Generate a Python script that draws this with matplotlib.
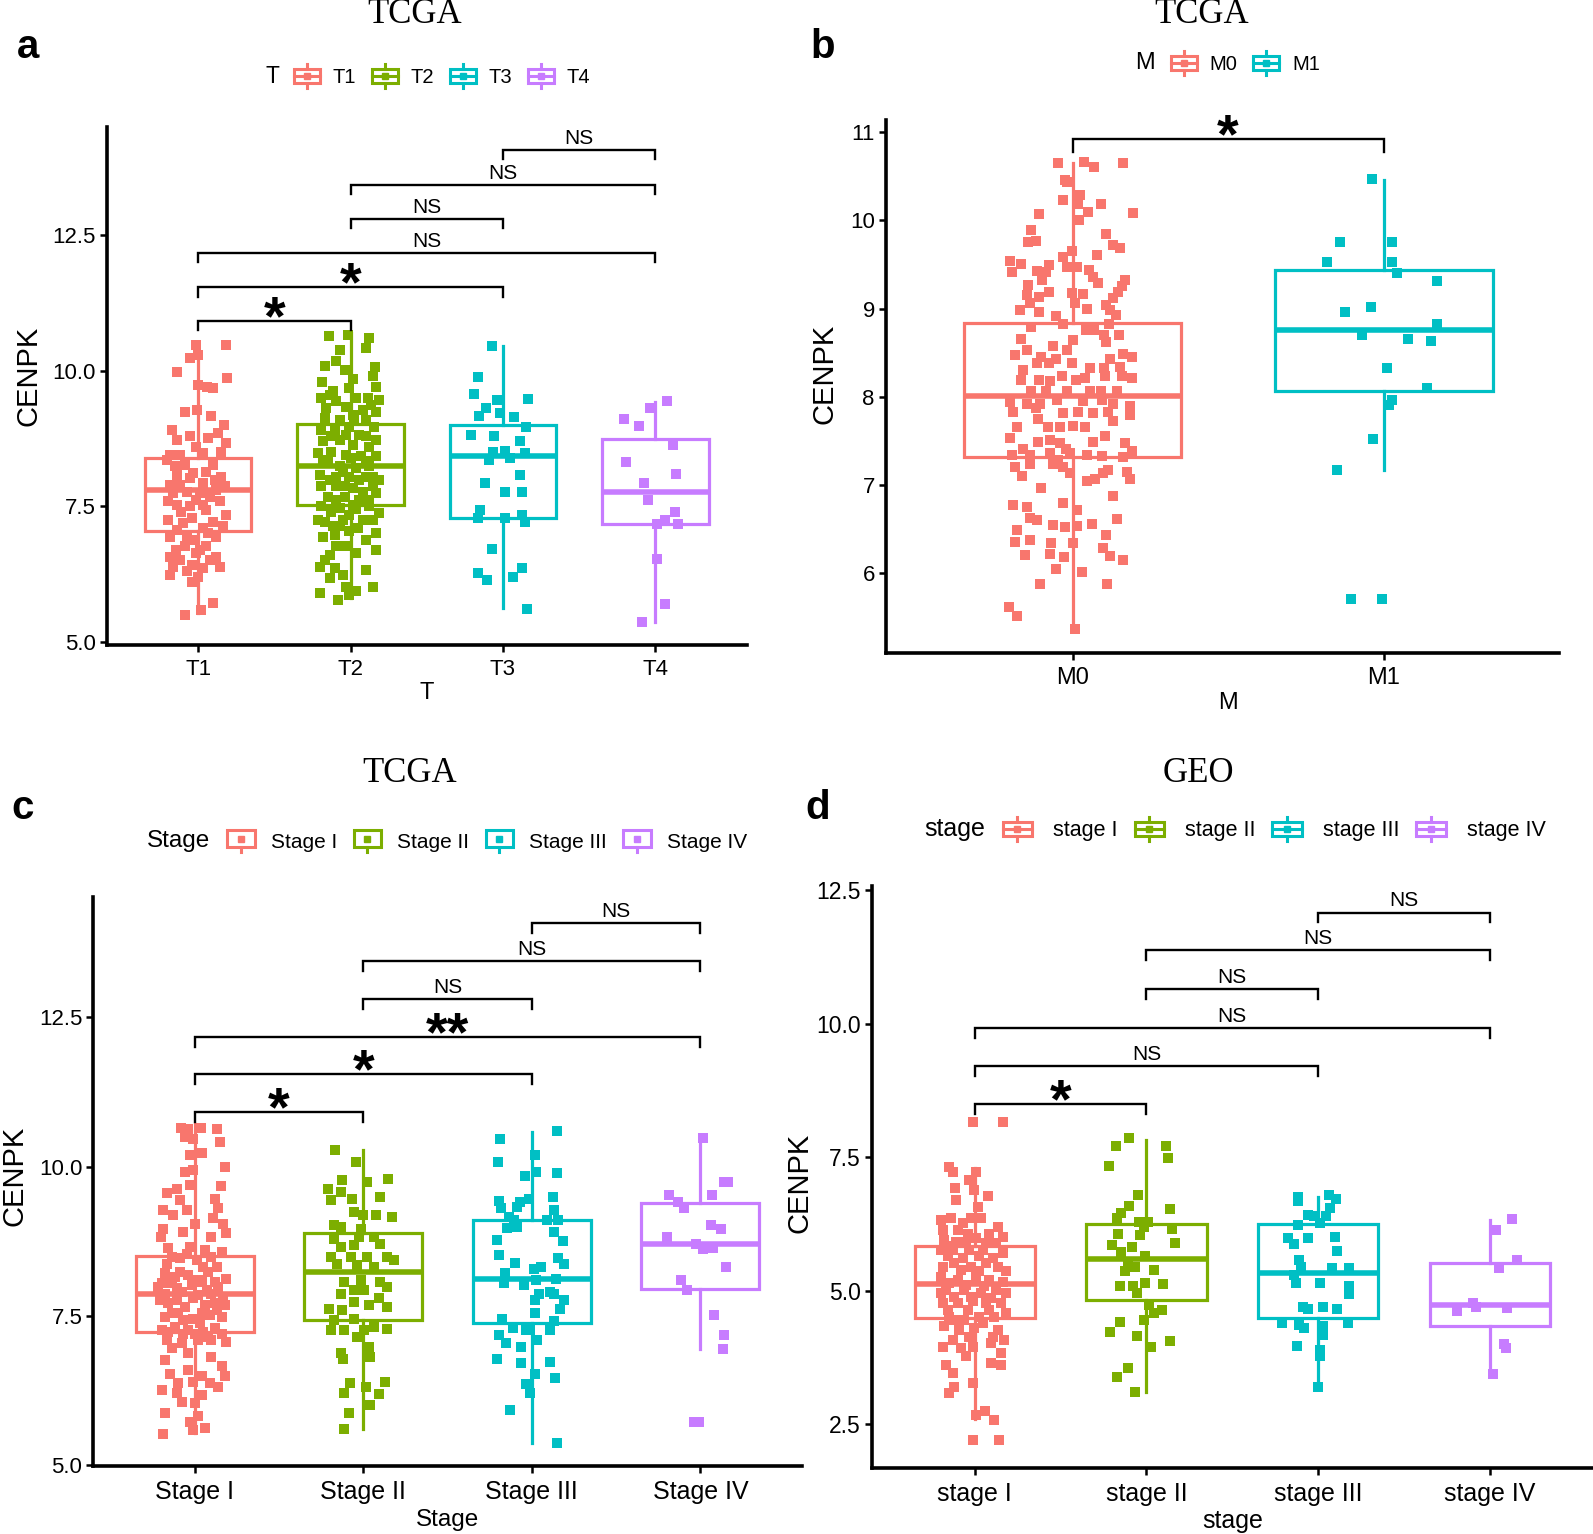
import matplotlib
matplotlib.use("Agg")
import matplotlib.pyplot as plt
from matplotlib.lines import Line2D
from matplotlib.patches import Rectangle
from matplotlib.legend_handler import HandlerBase
import numpy as np

plt.rcParams['font.family'] = ['Liberation Sans', 'DejaVu Sans']

# ---------------- DATA ----------------
# colours (ggplot hue palette)
hue4 = ['#F8766D', '#7CAE00', '#00BFC4', '#C77CFF']
hue2 = ['#F8766D', '#00BFC4']

# ---- panel a : T stage (TCGA) ----
a_cats = ['T1', 'T2', 'T3', 'T4']
a_T1_y = [10.48,10.48,10.24,10.30,9.97,9.87,9.74,9.71,9.68,9.25,9.28,9.16,9.00,8.91,8.79,8.76,8.85,8.73,8.67,8.60,
          8.45,8.45,8.48,8.51,8.36,8.27,8.27,8.08,8.11,8.05,7.90,7.93,7.90,7.77,7.80,7.62,7.59,7.59,7.40,7.44,
          7.34,7.25,7.28,7.22,7.07,7.10,6.94,6.88,6.76,6.76,6.70,6.57,6.64,6.57,6.51,6.42,6.39,6.24,6.30,6.20,
          6.11,5.71,5.59,5.50,8.24,8.02,8.14,7.99,7.74,7.74,7.68,7.87,7.53,7.50,7.53,7.19,7.13,7.00,6.94,6.94,
          6.70,6.51,6.39,6.36]
a_T1_jit = [-0.015,0.185,-0.054,0.0,-0.137,0.189,0.0,0.059,0.098,-0.087,-0.007,0.087,0.167,-0.174,-0.054,0.065,0.130,-0.141,0.185,-0.011,
            -0.185,-0.120,0.033,0.152,-0.207,-0.087,0.098,-0.141,-0.033,0.152,-0.120,0.033,-0.185,-0.076,0.120,-0.011,-0.196,0.141,-0.109,0.054,
            0.185,-0.196,-0.043,0.098,-0.141,0.033,-0.185,-0.022,-0.087,0.054,-0.146,-0.185,-0.011,0.120,-0.120,-0.043,0.141,-0.185,-0.076,0.0,
            -0.043,0.098,0.022,-0.087,-0.152,-0.054,0.054,0.109,-0.163,0.011,0.076,0.174,-0.141,-0.054,0.033,-0.098,0.163,0.065,-0.076,0.120,
            0.011,0.076,-0.163,0.033]
a_T2_y = [10.65,10.67,10.60,10.39,10.42,10.19,10.02,10.09,10.08,9.85,9.80,9.90,9.62,9.68,9.71,9.50,9.45,9.50,9.50,9.47,
          9.31,9.34,9.28,9.25,9.13,9.10,9.10,9.10,8.97,8.91,8.91,8.97,8.82,8.70,8.73,8.64,8.60,8.48,8.51,8.45,
          8.42,8.42,8.30,8.24,8.20,8.24,8.08,8.05,8.05,8.05,7.99,7.87,7.87,7.84,7.87,7.68,7.68,7.62,7.74,7.50,
          7.47,7.45,7.50,7.37,7.22,7.25,7.25,7.13,7.04,6.94,6.97,6.88,6.76,6.61,6.39,6.33,6.36,6.17,6.24,6.02,
          5.93,6.02,5.90,5.77,5.87,
          9.56,9.37,9.19,8.79,8.82,8.79,8.73,8.36,8.39,8.33,8.14,7.99,8.05,7.99,7.87,7.77,7.62,7.53,7.62,7.40,
          7.34,7.25,7.13,7.10,7.00,7.25,6.76,6.64,6.51,6.70]
a_T2_jit = [-0.141,-0.017,0.124,-0.067,0.102,-0.093,-0.039,-0.170,0.163,0.015,-0.185,0.146,-0.115,-0.007,0.167,-0.191,-0.093,0.037,0.113,0.189,
            -0.159,-0.028,0.080,0.167,-0.170,-0.072,0.026,0.102,0.157,-0.191,-0.104,-0.007,0.059,-0.180,-0.072,0.015,0.124,-0.213,-0.126,-0.028,
            0.070,0.167,-0.180,-0.072,0.037,0.124,-0.202,-0.093,-0.007,0.102,0.189,-0.191,-0.093,0.015,0.146,-0.148,-0.039,0.059,0.167,-0.191,
            -0.072,0.037,0.124,0.189,-0.170,-0.050,0.080,-0.115,-0.007,-0.180,-0.104,0.102,-0.039,-0.137,-0.202,0.102,-0.104,-0.137,-0.050,-0.028,
            0.037,0.146,-0.202,-0.083,-0.007,
            -0.137,0.135,0.015,-0.126,-0.028,0.102,0.167,-0.148,0.004,0.102,-0.050,0.059,0.146,-0.137,-0.039,0.080,-0.093,0.015,0.124,-0.126,
            -0.007,0.146,-0.072,0.048,0.167,-0.213,-0.093,0.037,-0.170,0.167]
a_T3_y = [10.46,9.88,9.58,9.47,9.48,9.32,9.17,9.22,9.15,8.97,8.82,8.80,8.70,8.51,8.52,8.36,8.39,8.48,8.08,7.93,
          7.77,7.77,7.44,7.28,7.28,7.34,7.22,6.71,6.27,6.14,6.36,6.19,5.60]
a_T3_jit = [-0.070,-0.165,-0.187,-0.041,0.165,-0.113,-0.154,-0.020,0.074,0.154,-0.211,-0.057,0.111,-0.067,0.013,-0.089,0.046,0.143,0.115,-0.117,
            0.017,0.124,-0.150,-0.161,0.013,0.126,0.148,-0.072,-0.165,-0.102,0.126,0.067,0.161]
a_T4_y = [9.45,9.31,9.11,8.99,8.64,8.32,8.10,7.94,7.62,7.40,7.25,7.18,7.18,6.53,5.70,5.36]
a_T4_jit = [0.076,-0.033,-0.204,-0.107,0.117,-0.189,0.137,-0.072,-0.046,0.130,0.067,0.013,0.148,0.009,0.061,-0.089]
a_q1 = [7.05, 7.53, 7.29, 7.18]
a_med = [7.80, 8.24, 8.42, 7.77]
a_q3 = [8.39, 9.02, 9.00, 8.74]
a_lo = [5.53, 5.80, 5.62, 5.36]
a_hi = [10.51, 10.70, 10.45, 9.42]
a_pairs = [(1, 2), (1, 3), (1, 4), (2, 3), (2, 4), (3, 4)]
a_sig_y = [10.92, 11.54, 12.18, 12.80, 13.43, 14.08]
a_sig = ['*', '*', 'NS', 'NS', 'NS', 'NS']

# ---- panel b : M stage (TCGA) ----
b_cats = ['M0', 'M1']
b_M0_y = [10.65,10.66,10.60,10.65,10.46,10.43,10.29,10.23,10.19,10.19,
          10.10,10.08,10.07,10.00,9.89,9.85,9.77,9.75,9.72,9.69,
          9.65,9.59,9.61,9.54,9.50,9.49,9.47,9.47,9.44,9.41,
          9.43,9.42,9.36,9.32,9.27,9.32,9.29,9.25,9.19,9.19,
          9.18,9.17,9.15,9.06,9.13,9.06,9.12,9.04,8.98,8.96,
          9.00,8.98,8.91,8.83,8.93,8.83,8.79,8.76,8.755,8.70,
          8.70,8.65,8.64,8.58,8.53,8.62,8.53,8.47,8.45,8.43,
          8.48,8.45,8.43,8.38,8.38,8.38,8.33,8.33,8.34,8.30,
          8.23,8.19,8.21,8.23,8.23,8.21,8.19,8.19,8.18,8.07,
          8.07,8.06,8.07,8.07,8.06,7.94,7.92,7.92,7.96,7.95,
          7.96,7.92,7.89,7.83,7.87,7.81,7.83,7.81,7.83,7.79,
          7.66,7.75,7.66,7.66,7.67,7.66,7.72,7.53,7.41,7.49,
          7.51,7.47,7.41,7.49,7.55,7.47,7.38,7.34,7.34,7.36,
          7.28,7.36,7.34,7.33,7.32,7.20,7.10,7.24,7.24,7.20,
          7.13,7.04,7.07,7.13,7.17,7.15,7.07,6.96,6.87,6.77,
          6.75,6.79,6.72,6.62,6.60,6.54,6.52,6.53,6.56,6.61,
          6.49,6.35,6.37,6.34,6.43,6.20,6.22,6.18,6.34,6.28,
          6.19,6.15,6.05,6.01,5.88,5.87,5.61,5.51,5.36]
b_M0_jit = [-0.046,0.036,0.069,0.163,-0.025,-0.019,0.024,-0.032,0.090,0.018,
            0.048,0.195,-0.107,0.020,-0.134,0.107,-0.119,-0.143,0.131,0.154,
            -0.003,-0.032,0.077,-0.202,-0.166,-0.076,-0.019,0.015,0.054,-0.196,
            -0.114,-0.084,0.066,0.170,-0.143,-0.097,0.083,0.158,0.147,-0.077,
            -0.002,0.034,-0.148,-0.137,-0.107,0.008,0.131,0.109,-0.169,-0.107,
            0.045,0.120,-0.054,-0.030,0.139,0.118,-0.134,0.043,0.069,0.102,
            0.150,-0.166,0.002,-0.062,-0.019,0.109,-0.146,-0.186,-0.100,-0.054,
            0.161,0.190,0.120,-0.114,-0.075,-0.003,0.056,0.102,0.152,-0.159,
            -0.035,0.011,0.040,0.104,0.158,0.190,-0.167,-0.107,-0.073,-0.135,
            -0.084,-0.019,0.056,0.090,0.142,-0.202,-0.148,-0.105,-0.049,0.032,
            0.093,0.131,0.184,-0.191,-0.116,-0.030,0.018,0.066,0.115,0.184,
            -0.180,-0.110,-0.078,-0.041,0.002,0.040,0.131,-0.202,-0.159,-0.110,
            -0.073,-0.041,-0.021,0.066,0.104,0.168,0.190,-0.196,-0.137,-0.073,
            -0.046,-0.009,0.047,0.093,0.163,-0.186,-0.164,-0.137,-0.062,-0.030,
            -0.009,0.045,0.072,0.099,0.115,0.174,0.184,-0.100,0.129,-0.191,
            -0.146,-0.032,0.013,-0.137,-0.114,-0.062,-0.025,0.013,0.061,0.142,
            -0.180,-0.186,-0.137,-0.068,0.107,-0.153,-0.073,-0.028,0.002,0.099,
            0.120,0.161,-0.054,0.029,-0.105,0.112,-0.204,-0.180,0.009]
b_M1_y = [10.47,9.75,9.75,9.53,9.53,9.40,9.31,9.02,8.96,8.83,8.70,8.65,8.63,8.32,8.10,7.96,7.91,7.52,7.17,5.70,5.70]
b_M1_jit = [-0.038,-0.139,0.026,-0.183,0.028,0.043,0.170,-0.042,-0.124,0.172,-0.070,0.078,0.151,0.011,0.138,0.027,0.016,-0.035,-0.151,-0.106,-0.004]
b_q1 = [7.32, 8.07]
b_med = [8.01, 8.76]
b_q3 = [8.84, 9.44]
b_lo = [5.35, 7.17]
b_hi = [10.65, 10.46]
b_pairs = [(1, 2)]
b_sig_y = [10.92]
b_sig = ['*']

# ---- panel c : Stage (TCGA) ----
c_cats = ['Stage I', 'Stage II', 'Stage III', 'Stage IV']
c_S1_y = [10.65,10.63,10.65,10.63,10.49,10.47,10.41,10.19,10.23,10.00,9.91,9.94,9.67,9.55,9.63,9.69,9.46,9.44,9.27,9.18,
          9.27,9.30,9.13,9.04,8.96,8.90,9.04,8.88,8.82,8.82,8.63,8.65,8.60,8.57,8.37,8.46,8.43,8.49,8.21,8.23,
          8.23,8.12,8.04,8.04,8.01,8.07,7.98,7.87,7.90,7.84,7.87,7.82,7.71,7.65,7.68,7.68,7.48,7.54,7.45,7.51,
          7.48,7.26,7.31,7.26,7.23,7.29,7.09,7.04,7.09,7.09,7.06,6.95,6.87,6.76,6.81,6.65,6.53,6.59,6.48,6.48,
          6.37,6.39,6.37,6.25,6.20,6.17,6.31,6.06,6.03,5.87,5.72,5.81,5.61,5.58,5.51,
          8.49,8.54,8.32,8.32,8.15,8.18,8.10,8.07,7.98,7.96,7.93,7.76,7.76,7.79,7.71,7.54,7.54,7.59,7.43,7.37,
          7.23,7.20,7.15,7.20,7.20]
c_S1_jit = [-0.081,-0.037,0.037,0.130,-0.057,-0.008,0.150,-0.028,0.041,0.179,-0.057,-0.008,0.156,-0.166,-0.106,-0.028,0.120,-0.087,-0.185,-0.126,
            -0.047,0.140,0.110,0.002,-0.185,-0.067,0.169,0.189,-0.199,0.100,-0.156,-0.028,0.061,0.160,-0.166,-0.087,0.012,0.100,-0.175,-0.087,
            0.081,0.189,-0.195,-0.136,-0.018,0.041,0.140,-0.175,-0.077,0.022,0.100,0.169,-0.156,-0.057,0.061,0.179,-0.175,-0.097,-0.008,0.091,
            0.160,-0.195,-0.116,-0.037,0.051,0.120,-0.166,-0.077,0.022,0.100,0.189,-0.136,-0.037,-0.175,0.100,0.160,-0.146,-0.037,0.041,0.179,
            -0.097,-0.008,0.091,-0.195,-0.106,0.041,0.140,-0.077,0.002,-0.175,-0.028,0.022,0.061,-0.008,-0.185,
            -0.136,-0.047,0.051,0.130,-0.116,-0.037,0.022,0.120,-0.215,-0.106,0.071,-0.205,-0.106,-0.008,0.120,-0.136,0.041,0.130,-0.067,0.032,
            -0.156,0.002,0.081,0.160,-0.067]
c_S2_y = [10.28,10.08,9.74,9.79,9.77,9.63,9.57,9.49,9.44,9.46,9.24,9.19,9.16,9.18,9.02,8.99,8.96,8.79,8.82,8.82,
          8.65,8.68,8.71,8.49,8.49,8.49,8.49,8.43,8.37,8.35,8.32,8.07,8.10,8.07,7.98,7.93,7.93,7.87,7.62,7.59,
          7.79,7.73,7.68,7.65,7.43,7.45,7.31,7.26,7.26,7.26,7.27,7.14,6.98,6.87,6.77,6.81,6.39,6.37,6.20,6.19,
          6.31,6.00,5.86,5.60]
c_S2_jit = [-0.167,-0.045,0.020,0.148,-0.124,-0.209,-0.134,0.099,-0.189,-0.065,-0.055,0.077,0.171,0.0,-0.173,-0.134,-0.016,-0.173,-0.026,0.063,
            -0.130,-0.055,0.102,-0.193,-0.075,0.024,0.142,0.181,-0.154,-0.035,0.063,-0.114,-0.016,0.102,0.142,-0.055,0.004,-0.134,-0.203,-0.124,
            0.093,-0.055,0.033,0.142,-0.173,-0.055,0.063,-0.193,-0.114,0.004,0.142,-0.039,0.033,-0.134,-0.118,0.039,0.132,-0.079,-0.114,0.093,
            0.018,0.039,-0.085,-0.114]
c_S3_y = [10.47,10.60,10.08,10.20,9.84,9.91,9.89,9.42,9.41,9.45,9.49,9.30,9.33,9.27,9.16,9.10,9.10,9.10,8.97,8.99,
          8.91,8.77,8.75,8.51,8.39,8.47,8.36,8.29,8.32,8.22,8.05,8.01,8.10,8.12,7.87,7.90,7.76,7.87,7.76,7.61,
          7.55,7.45,7.41,7.29,7.26,7.26,7.26,7.18,7.04,7.10,6.98,6.77,6.70,6.72,6.53,6.45,6.35,6.21,5.91,5.36]
c_S3_jit = [-0.191,0.148,-0.203,0.018,-0.043,0.026,0.148,-0.193,-0.073,-0.018,0.124,-0.181,-0.087,0.130,-0.136,-0.106,0.091,0.154,-0.150,-0.087,
            0.130,-0.205,0.183,-0.195,-0.100,0.156,0.189,0.012,0.055,-0.160,-0.166,-0.047,0.022,0.146,0.041,0.110,0.016,0.130,0.189,0.169,
            0.016,-0.175,0.130,-0.112,-0.037,-0.008,0.110,-0.195,-0.152,0.028,-0.067,-0.209,-0.063,0.110,0.016,0.140,-0.037,-0.012,-0.130,0.150]
c_S4_y = [10.48,9.74,9.74,9.52,9.52,9.41,9.30,9.02,8.96,8.82,8.71,8.61,8.64,8.32,8.10,7.93,7.51,7.18,6.94,5.71,5.71]
c_S4_jit = [0.016,0.138,0.161,-0.187,0.069,-0.132,-0.099,0.065,0.122,-0.201,-0.024,0.014,0.073,0.154,-0.114,-0.079,0.079,0.142,0.134,-0.039,-0.010]
c_q1 = [7.22, 7.43, 7.38, 7.94]
c_med = [7.87, 8.24, 8.11, 8.70]
c_q3 = [8.50, 8.89, 9.10, 9.39]
c_lo = [5.53, 5.60, 5.37, 6.94]
c_hi = [10.72, 10.27, 10.58, 10.47]
c_pairs = [(1, 2), (1, 3), (1, 4), (2, 3), (2, 4), (3, 4)]
c_sig_y = [10.91, 11.55, 12.18, 12.81, 13.45, 14.09]
c_sig = ['*', '*', '**', 'NS', 'NS', 'NS']

# ---- panel d : stage (GEO) ----
d_cats = ['stage I', 'stage II', 'stage III', 'stage IV']
d_S1_y = [8.16,8.16,7.32,7.23,7.23,7.07,6.92,6.88,6.77,6.70,6.57,6.32,6.36,6.36,6.36,6.20,6.14,6.14,6.07,6.01,
          5.95,5.92,5.98,5.89,5.76,5.76,5.76,5.76,5.70,5.45,5.51,5.45,5.51,5.45,5.36,5.26,5.20,5.26,5.20,5.17,
          5.01,5.01,4.95,5.01,4.95,4.76,4.76,4.80,4.76,4.76,4.51,4.45,4.51,4.51,4.58,4.33,4.27,4.30,4.27,4.08,
          4.14,4.02,4.08,3.95,3.92,3.83,3.61,3.45,3.77,3.64,3.61,3.27,3.20,3.09,2.67,2.74,2.58,2.20,2.20,
          5.64,5.61,5.64,5.61,5.14,5.11,5.08,5.83,5.92,5.89,5.39,5.36,4.89,4.89,4.86,4.64,4.64,4.64,6.26,6.07,
          4.95,4.39,4.45,3.95,4.14]
d_S1_jit = [-0.008,0.163,-0.147,-0.128,0.008,-0.031,-0.112,-0.002,0.076,-0.109,0.017,-0.196,-0.138,-0.021,0.037,0.134,-0.186,-0.099,-0.041,0.163,
            -0.176,-0.109,0.008,0.124,-0.196,-0.128,-0.031,0.047,0.163,-0.186,-0.118,-0.021,0.066,0.134,0.182,-0.196,-0.099,0.008,0.085,0.163,
            -0.167,-0.060,0.037,0.124,0.182,-0.186,-0.099,-0.012,0.066,0.153,-0.147,-0.060,0.027,0.114,0.182,-0.176,-0.089,-0.002,0.134,-0.128,
            -0.031,0.095,0.172,-0.186,-0.079,0.153,-0.167,-0.128,-0.050,0.095,0.153,-0.012,-0.118,-0.147,0.008,0.062,0.114,-0.012,0.143,
            -0.157,-0.070,0.027,0.105,-0.147,-0.050,0.056,-0.167,-0.050,0.066,-0.079,0.027,-0.118,-0.021,0.095,-0.157,-0.041,0.085,-0.070,0.085,
            -0.196,0.047,-0.118,-0.012,0.105]
d_S2_y = [7.86,7.70,7.71,7.48,7.33,6.79,6.52,6.59,6.46,6.36,6.29,6.29,6.15,6.07,6.04,5.89,5.86,5.82,5.73,5.64,
          5.54,5.45,5.39,5.36,5.14,5.08,5.08,5.12,4.95,4.73,4.63,4.58,4.45,4.42,4.23,4.15,3.95,4.05,3.55,3.39,
          3.11,6.20]
d_S2_jit = [-0.099,-0.178,0.114,0.128,-0.217,-0.050,0.138,-0.101,-0.147,-0.172,-0.043,0.008,0.151,-0.163,-0.037,0.167,-0.202,-0.085,-0.147,-0.008,
            -0.105,-0.066,0.041,-0.124,-0.008,-0.157,-0.076,0.095,-0.056,0.016,0.089,0.041,-0.017,-0.157,-0.211,-0.056,0.027,0.138,-0.105,-0.172,
            -0.066,-0.017]
d_S3_y = [6.76,6.67,6.79,6.71,6.54,6.42,6.39,6.40,6.23,6.26,5.98,5.87,5.98,6.01,5.75,5.57,5.45,5.42,5.42,5.29,
          5.14,5.14,5.08,4.94,4.69,4.66,4.70,4.66,4.39,4.36,4.31,4.33,4.39,4.17,3.97,3.89,3.77,3.20]
d_S3_jit = [-0.120,-0.120,0.060,0.103,0.070,-0.058,-0.023,0.043,-0.120,0.012,-0.178,-0.140,-0.062,0.099,0.109,-0.114,-0.101,0.083,0.180,-0.140,
            -0.130,0.012,0.180,0.180,-0.091,-0.058,0.025,0.112,-0.211,-0.114,-0.081,0.025,0.174,0.025,-0.124,0.012,0.012,-0.004]
d_S4_y = [6.34,6.14,5.57,5.42,4.76,4.70,4.61,4.67,4.01,3.92,3.44]
d_S4_jit = [0.128,0.037,0.155,0.054,-0.097,-0.081,-0.192,0.097,0.079,0.093,0.016]
d_q1 = [4.48, 4.83, 4.48, 4.33]
d_med = [5.12, 5.59, 5.34, 4.73]
d_q3 = [5.84, 6.24, 6.25, 5.51]
d_lo = [2.60, 3.11, 3.20, 3.44]
d_hi = [7.30, 7.83, 6.76, 6.32]
d_pairs = [(1, 2), (1, 3), (1, 4), (2, 3), (2, 4), (3, 4)]
d_sig_y = [8.49, 9.20, 9.92, 10.64, 11.37, 12.08]
d_sig = ['*', 'NS', 'NS', 'NS', 'NS', 'NS']

# ---------------- FIGURE ----------------
FW, FH = 1593, 1534
fig = plt.figure(figsize=(FW / 100, FH / 100), dpi=100)
RW, RH = 1568.0, 1510.0   # layout measured on this grid


def fx(x):
    return x / RW


def fy(y):
    return 1 - y / RH


def add_ax(l, t, r, b):
    return fig.add_axes([fx(l), fy(b), fx(r) - fx(l), fy(t) - fy(b)])


class BoxKey(HandlerBase):
    def __init__(self, style='full', lw=2.2):
        super().__init__()
        self.style = style
        self.lw = lw

    def create_artists(self, legend, orig_handle, xdescent, ydescent, width, height, fontsize, trans):
        col = orig_handle.get_color()
        x0, y0 = -xdescent, -ydescent
        cx = x0 + width / 2
        bx0, bw = x0 + 0.06 * width, 0.88 * width
        arts = []
        if self.style == 'full':
            by0, bh = y0 + 0.2 * height, 0.6 * height
            arts.append(Line2D([cx, cx], [by0 + bh, y0 + height], color=col, lw=self.lw, transform=trans))
            arts.append(Line2D([bx0, bx0 + bw], [by0 + bh / 2] * 2, color=col, lw=self.lw, transform=trans))
        else:
            by0, bh = y0 + 0.22 * height, 0.78 * height
        arts.append(Line2D([cx, cx], [y0, by0], color=col, lw=self.lw, transform=trans))
        arts.append(Rectangle((bx0, by0), bw, bh, fill=False, ec=col, lw=self.lw, transform=trans))
        arts.append(Line2D([cx], [by0 + bh / 2], marker='s', ms=4.5, color=col, lw=0, transform=trans))
        return arts


def draw_panel(ax, ys, jits, colors, q1, med, q3, lo, hi):
    n = len(colors)
    pos = np.arange(1, n + 1)
    stats = [dict(med=med[i], q1=q1[i], q3=q3[i], whislo=lo[i], whishi=hi[i], fliers=[]) for i in range(n)]
    bp = ax.bxp(stats, positions=pos, widths=0.7, showfliers=False, showcaps=False,
                patch_artist=True, manage_ticks=False,
                boxprops=dict(linewidth=2.3, facecolor='white'),
                whiskerprops=dict(linewidth=2.3),
                medianprops=dict(linewidth=4.0, solid_capstyle='butt'))
    for i, c in enumerate(colors):
        bp['boxes'][i].set_edgecolor(c)
        bp['boxes'][i].set_joinstyle('miter')
        bp['medians'][i].set_color(c)
        bp['whiskers'][2 * i].set_color(c)
        bp['whiskers'][2 * i + 1].set_color(c)
        ax.scatter(pos[i] + np.array(jits[i]), ys[i], marker='s', s=44, color=c,
                   linewidths=0, zorder=3)


def draw_sig(ax, pairs, ys, labels, tip):
    for (i, j), y, lab in zip(pairs, ys, labels):
        ax.plot([i, i, j, j], [y - tip, y, y, y - tip], color='black', lw=1.7,
                solid_joinstyle='miter', zorder=4)
        if lab == 'NS':
            ax.annotate(lab, xy=((i + j) / 2, y), xytext=(0, 1.5), textcoords='offset points',
                        ha='center', va='bottom', fontsize=15)
        else:
            ax.annotate(lab, xy=((i + j) / 2, y), xytext=(0, -9.5), textcoords='offset points',
                        ha='center', va='baseline', fontsize=40, fontweight='bold')


def style_axes(ax, cats, xlim, ylim, yticks, yticklabels, ytick_fs, xtick_fs,
               xlabel, xl_fs, xl_pos, yl_pos):
    ax.set_xlim(*xlim)
    ax.set_ylim(*ylim)
    ax.set_xticks(np.arange(1, len(cats) + 1))
    ax.set_xticklabels(cats, fontsize=xtick_fs)
    ax.set_yticks(yticks)
    ax.set_yticklabels(yticklabels, fontsize=ytick_fs)
    for s in ['top', 'right']:
        ax.spines[s].set_visible(False)
    for s in ['left', 'bottom']:
        ax.spines[s].set_linewidth(2.6)
        ax.spines[s].set_capstyle('projecting')
    ax.tick_params(axis='both', width=1.8, length=5, color='black', labelcolor='black')
    ax.tick_params(axis='y', pad=3)
    ax.tick_params(axis='x', pad=5)
    ax.set_xlabel(xlabel, fontsize=xl_fs)
    ax.set_ylabel('CENPK', fontsize=21)
    ax.xaxis.set_label_coords(*xl_pos)
    ax.yaxis.set_label_coords(*yl_pos)
    ax.patch.set_alpha(0)


def add_legend(title, labels, colors, title_x, y, start_x, fs, title_fs, hl, hh, tp, cs, style):
    fig.text(fx(title_x), fy(y), title, fontsize=title_fs, ha='left', va='center')
    handles = [Line2D([], [], color=c) for c in colors]
    fig.legend(handles, labels, loc='center left', bbox_to_anchor=(fx(start_x), fy(y)),
               ncol=len(labels), frameon=False, fontsize=fs,
               handler_map={Line2D: BoxKey(style=style)},
               handlelength=hl, handleheight=hh, handletextpad=tp, columnspacing=cs,
               borderpad=0, borderaxespad=0)


serif = ['Liberation Serif', 'DejaVu Serif']

# ---- panel a ----
axa = add_ax(105, 125, 735, 635)
draw_panel(axa, [a_T1_y, a_T2_y, a_T3_y, a_T4_y], [a_T1_jit, a_T2_jit, a_T3_jit, a_T4_jit],
           hue4, a_q1, a_med, a_q3, a_lo, a_hi)
draw_sig(axa, a_pairs, a_sig_y, a_sig, 0.17)
style_axes(axa, a_cats, (0.4, 4.6), (4.94, 14.5), [5, 7.5, 10, 12.5], ['5.0', '7.5', '10.0', '12.5'],
           16, 16, 'T', 17, (0.5, -0.072), (-0.10, 0.52))
fig.text(fx(408), fy(23), 'TCGA', fontsize=25, family=serif, ha='center', va='baseline')
fig.text(fx(28), fy(57), 'a', fontsize=29, fontweight='bold', ha='center', va='baseline')
add_legend('T', a_cats, hue4, 261, 75, 288, 14.5, 16.5, 1.45, 1.45, 0.55, 0.7, 'full')

# ---- panel b ----
axb = add_ax(872, 118, 1535, 643)
draw_panel(axb, [b_M0_y, b_M1_y], [b_M0_jit, b_M1_jit], hue2, b_q1, b_med, b_q3, b_lo, b_hi)
draw_sig(axb, b_pairs, b_sig_y, b_sig, 0.15)
style_axes(axb, b_cats, (0.4, 2.565), (5.09, 11.14), [6, 7, 8, 9, 10, 11], ['6', '7', '8', '9', '10', '11'],
           16, 17, 'M', 17, (0.508, -0.072), (-0.07, 0.524))
fig.text(fx(1183), fy(23), 'TCGA', fontsize=25, family=serif, ha='center', va='baseline')
fig.text(fx(810), fy(57), 'b', fontsize=29, fontweight='bold', ha='center', va='baseline')
add_legend('M', b_cats, hue2, 1117, 62, 1151, 14.5, 17, 1.45, 1.45, 0.55, 0.7, 'full')

# ---- panel c ----
axc = add_ax(92, 883, 789, 1443)
draw_panel(axc, [c_S1_y, c_S2_y, c_S3_y, c_S4_y], [c_S1_jit, c_S2_jit, c_S3_jit, c_S4_jit],
           hue4, c_q1, c_med, c_q3, c_lo, c_hi)
draw_sig(axc, c_pairs, c_sig_y, c_sig, 0.17)
style_axes(axc, c_cats, (0.4, 4.6), (4.98, 14.52), [5, 7.5, 10, 12.5], ['5.0', '7.5', '10.0', '12.5'],
           16, 18, 'Stage', 17.5, (0.5, -0.075), (-0.092, 0.509))
fig.text(fx(403), fy(770), 'TCGA', fontsize=25, family=serif, ha='center', va='baseline')
fig.text(fx(22), fy(806), 'c', fontsize=29, fontweight='bold', ha='center', va='baseline')
add_legend('Stage', c_cats, hue4, 145, 828, 222, 15, 17.5, 1.5, 1.25, 0.66, 0.72, 'open')

# ---- panel d ----
axd = add_ax(858, 872, 1568, 1445)
draw_panel(axd, [d_S1_y, d_S2_y, d_S3_y, d_S4_y], [d_S1_jit, d_S2_jit, d_S3_jit, d_S4_jit],
           hue4, d_q1, d_med, d_q3, d_lo, d_hi)
draw_sig(axd, d_pairs, d_sig_y, d_sig, 0.18)
style_axes(axd, d_cats, (0.4, 4.6), (1.68, 12.58), [2.5, 5, 7.5, 10, 12.5],
           ['2.5', '5.0', '7.5', '10.0', '12.5'], 16.5, 18, 'stage', 18, (0.5, -0.07), (-0.08, 0.489))
fig.text(fx(1180), fy(770), 'GEO', fontsize=25, family=serif, ha='center', va='baseline')
fig.text(fx(805), fy(806), 'd', fontsize=29, fontweight='bold', ha='center', va='baseline')
add_legend('stage', d_cats, hue4, 910, 816, 985, 15.5, 18, 1.55, 1.4, 0.88, 0.7, 'full')

fig.savefig('out.png', dpi=100, facecolor='white')
